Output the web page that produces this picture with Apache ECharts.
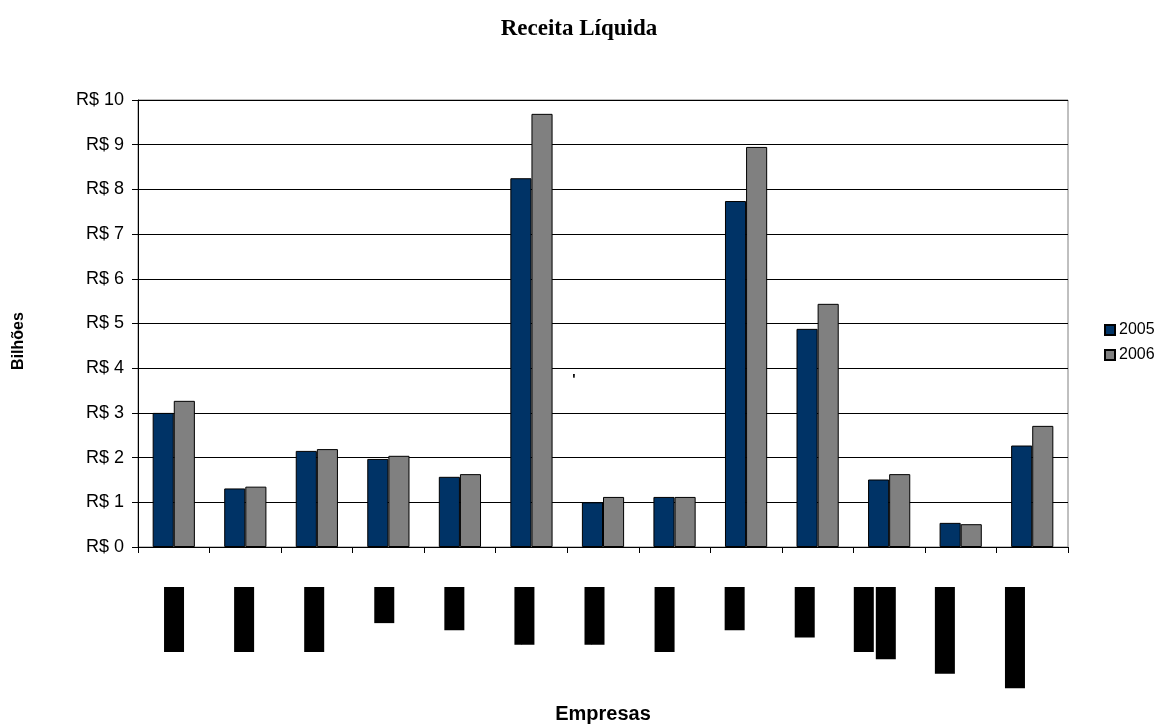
<!DOCTYPE html>
<html>
<head>
<meta charset="utf-8">
<title>Receita Líquida</title>
<script src="https://cdn.jsdelivr.net/npm/echarts@6/dist/echarts.min.js"></script>
<style>
  html, body { margin: 0; padding: 0; background: #fff; }
  #chart { width: 1158px; height: 728px; }
</style>
</head>
<body>
<div id="chart"></div>
<script>
// empresas (nomes ilegíveis no original, aparecem como blocos pretos)
const empresas = [
  'Empresa A', 'Empresa B', 'Empresa C', 'Cia D', 'Cia. E', 'Cia F SA', 'Cia G SA',
  'Empresa H', 'Cia. I', 'Grupo J', 'Cia. K S/A\nHolding K', 'Grupo L S.A.', 'Companhia M SA'
]
const anos = ['2005', '2006']
// receita líquida em bilhões de R$
const receita2005 = [3.00, 1.31, 2.15, 1.97, 1.57, 8.25, 1.00, 1.12, 7.74, 4.88, 1.51, 0.54, 2.27]
const receita2006 = [3.27, 1.35, 2.19, 2.04, 1.63, 9.69, 1.12, 1.12, 8.95, 5.44, 1.63, 0.51, 2.71]
const eixoY = { min: 0, max: 10, interval: 1 }

const chart = echarts.init(document.getElementById('chart'))

const font = 'Liberation Sans, Arial, sans-serif'

const option = {
  animation: false,
  title: {
    text: 'Receita Líquida',
    left: 'center',
    top: 13,
    textStyle: {
      fontFamily: 'Liberation Serif, Times New Roman, serif',
      fontWeight: 'bold',
      fontSize: 23,
      color: '#000'
    }
  },
  legend: {
    orient: 'vertical',
    left: 1099,
    top: 317,
    itemWidth: 10,
    itemHeight: 10,
    itemGap: 9,
    icon: 'rect',
    data: anos,
    textStyle: { fontFamily: font, fontSize: 16, color: '#000', padding: [0, 0, 0, -1] }
  },
  grid: [
    {
      left: 138, right: 90, top: 100, bottom: 181,
      outerBoundsMode: 'none',
      show: true, borderColor: '#808080', borderWidth: 1
    },
    // grade invisível só para os rótulos das empresas
    { left: 139, right: 108, top: 100, bottom: 181, outerBoundsMode: 'none', show: false }
  ],
  xAxis: [
    {
      type: 'category',
      gridIndex: 0,
      data: empresas,
      axisLine: { lineStyle: { color: '#000', width: 1 } },
      axisTick: { show: true, interval: 0, length: 6, lineStyle: { color: '#000' } },
      axisLabel: { show: false, interval: 0 },
      name: 'Empresas',
      nameLocation: 'middle',
      nameGap: 157,
      nameTextStyle: { fontFamily: font, fontWeight: 'bold', fontSize: 20, color: '#000' }
    },
    {
      type: 'category',
      gridIndex: 1,
      data: empresas,
      axisLine: { show: false },
      axisTick: { show: false },
      axisLabel: {
        interval: 0,
        rotate: -90,
        margin: 40,
        formatter: (v) => v.split('\n').map(s => '{b|' + s + '}').join('\n'),
        rich: {
          b: {
            fontFamily: 'DejaVu Sans Mono, monospace',
            fontSize: 12,
            color: '#000',
            backgroundColor: '#000',
            height: 20,
            lineHeight: 22
          }
        }
      }
    }
  ],
  yAxis: [
    {
      type: 'value',
      gridIndex: 0,
      min: eixoY.min,
      max: eixoY.max,
      interval: eixoY.interval,
      axisLine: { show: true, lineStyle: { color: '#000' } },
      axisTick: { show: true, length: 6, lineStyle: { color: '#000' } },
      axisLabel: {
        formatter: 'R$ {value}',
        fontFamily: font,
        fontSize: 18,
        color: '#000',
        margin: 14
      },
      splitLine: { show: true, lineStyle: { color: '#000', width: 1 } }
    },
    { type: 'value', gridIndex: 1, show: false }
  ],
  graphic: [
    {
      type: 'text',
      x: 19,
      y: 341,
      rotation: Math.PI / 2,
      style: {
        text: 'Bilhões',
        fontFamily: font,
        fontWeight: 'bold',
        fontSize: 16,
        fill: '#000',
        textAlign: 'center',
        textVerticalAlign: 'middle'
      }
    },
    {
      type: 'text',
      x: 574,
      y: 380,
      style: {
        text: "'",
        fontFamily: font,
        fontWeight: 'bold',
        fontSize: 14,
        fill: '#000',
        textAlign: 'center',
        textVerticalAlign: 'middle'
      }
    }
  ],
  series: [
    {
      name: anos[0],
      type: 'bar',
      xAxisIndex: 0,
      yAxisIndex: 0,
      data: receita2005,
      barGap: '0%',
      barCategoryGap: '41%',
      itemStyle: { color: '#003366', borderColor: '#000', borderWidth: 1 }
    },
    {
      name: anos[1],
      type: 'bar',
      xAxisIndex: 0,
      yAxisIndex: 0,
      data: receita2006,
      barGap: '0%',
      barCategoryGap: '41%',
      itemStyle: { color: '#808080', borderColor: '#000', borderWidth: 1 }
    }
  ]
}

chart.setOption(option)
</script>
</body>
</html>
